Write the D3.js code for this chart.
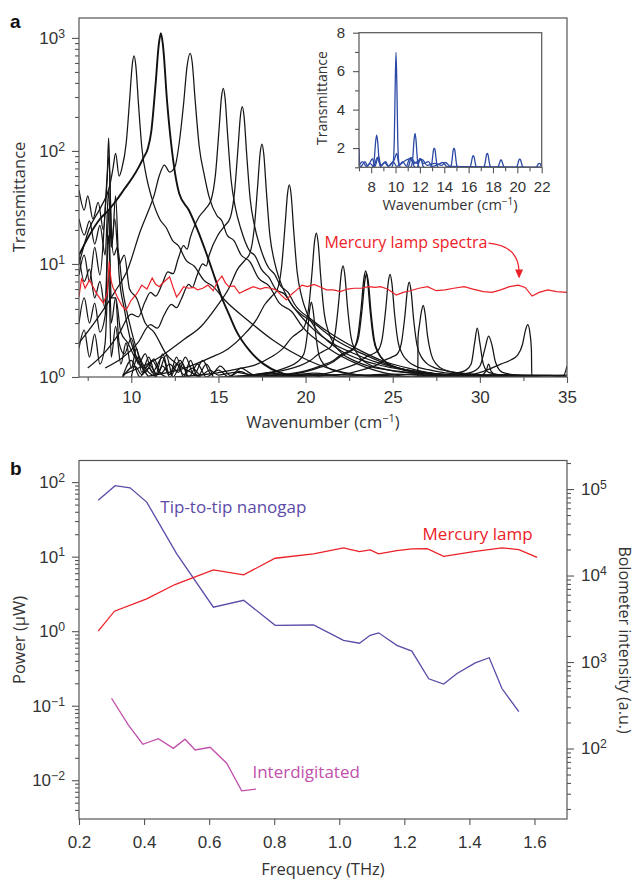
<!DOCTYPE html>
<html><head><meta charset="utf-8">
<script src="https://cdn.jsdelivr.net/npm/d3@7"></script>
<style>
body{margin:0;background:#fff;}
svg{font-family:"Open Sans","Noto Sans",sans-serif;}
</style></head><body><svg id="c" width="638" height="882"></svg>
<script>
// ---------- Panel a : transmittance spectra (wavenumber cm^-1, transmittance) ----------
const specA=[[7.0,10],[7.56,20],[8.26,32],[8.76,49],[8.95,70],[9.1,95],[9.3,60],[9.46,70],[9.71,118],[9.91,291],[10.06,588],[10.16,692],[10.26,568],[10.41,264],[10.61,105],[10.86,60],[11.16,39],[11.66,24.5],[12.0,21],[12.36,16.2],[12.7,14.5],[13.16,10.7],[13.6,9.6],[14.16,7.2],[14.7,6.3],[15.36,4.8],[16.66,3.2],[18.16,2.1],[20.16,1.4],[22.16,1.1],[24,1.0]];
const specB=[[7.0,12],[7.6,18],[8.2,25],[8.7,30],[9.17,37],[9.6,46],[10.1,59],[10.45,73],[10.7,87],[10.95,105],[11.15,150],[11.4,400],[11.58,880],[11.7,1100],[11.82,850],[12.06,266],[12.35,96],[12.75,42],[13.3,30],[13.8,20],[14.3,12.5],[14.8,7.5],[15.2,5],[15.6,3.6],[16,2.6],[16.8,1.7],[17.6,1.3],[18.5,1.1],[20,1.0]];
const specC=[[7.0,2.0],[8.0,3.2],[9.0,5.5],[9.8,9],[10.54,20],[11.0,30],[11.3,40],[11.6,60],[11.9,75],[12.2,65],[12.5,72],[12.75,118],[13.0,260],[13.2,560],[13.38,730],[13.5,600],[13.65,300],[13.9,109],[14.2,60],[14.47,39],[14.9,27],[15.2,24],[15.5,18],[15.9,16],[16.3,12],[16.8,10.5],[17.3,7.5],[17.9,6.4],[18.5,4.5],[19.2,3.8],[19.8,2.8],[21.3,1.8],[23,1.3],[25,1.05],[26,1.0]];
const specD=[[7.5,1.2],[8.4,1.6],[9.28,2.4],[10.0,3.6],[10.4,3.4],[10.78,4.6],[11.1,5.6],[11.4,5.2],[11.78,6.7],[12.1,8.5],[12.4,8.2],[12.68,11],[13.0,14.5],[13.2,13.5],[13.38,17],[13.88,26],[14.28,31],[14.58,37],[14.83,62],[15.03,151],[15.18,304],[15.28,358],[15.38,294],[15.53,137],[15.73,55],[15.98,31],[16.28,20.6],[16.78,13.1],[17.1,11.8],[17.48,8.9],[17.9,7.6],[18.28,6],[18.8,5.4],[19.28,4.2],[20.48,3],[21.78,2.1],[23.28,1.6],[25.28,1.2],[27.28,1.0]];
const specE=[[8.5,1.2],[10.37,2.0],[11.1,2.9],[11.5,2.7],[11.87,3.5],[12.3,4.4],[12.6,4.1],[12.87,4.9],[13.3,6.6],[13.5,6.2],[13.77,7.9],[14.1,10],[14.3,9.6],[14.47,12],[14.97,18],[15.37,21.8],[15.67,25.5],[15.92,42.6],[16.12,104],[16.27,209],[16.37,246],[16.47,202],[16.62,94],[16.82,37.8],[17.07,21.8],[17.37,14.5],[17.87,9.3],[18.2,8.2],[18.57,6.4],[19.0,5.6],[19.37,4.4],[20.37,3.2],[21.57,2.35],[22.87,1.8],[24.37,1.4],[26.37,1.15],[28.37,1.0]];
const specF=[[9.5,1.05],[11.5,1.46],[13.0,2.14],[14.0,2.8],[14.9,4.2],[15.6,6.1],[16.1,9.0],[16.5,10.7],[16.8,12.4],[17.05,20.4],[17.25,48.9],[17.4,97.9],[17.5,115],[17.6,94.5],[17.75,44.3],[17.95,18.1],[18.2,10.7],[18.5,7.3],[19.0,4.9],[19.7,3.5],[20.5,2.6],[21.5,2.0],[22.7,1.63],[24.0,1.36],[25.5,1.18],[27.5,1.07],[29.5,1.0]];
const specG=[[11,1.02],[13.07,1.2],[14.57,1.49],[15.57,1.78],[16.47,2.37],[17.17,3.2],[17.67,4.4],[18.07,5.2],[18.37,5.9],[18.62,9.3],[18.82,21.6],[18.97,42.6],[19.07,50],[19.17,41.2],[19.32,19.6],[19.52,8.4],[19.77,5.2],[20.07,3.7],[20.57,2.7],[21.27,2.08],[22.07,1.69],[23.07,1.44],[24.27,1.27],[25.57,1.16],[27.07,1.08],[29.07,1.03],[31,1.0]];
const specH=[[12.5,1.0],[14.62,1.07],[16.12,1.18],[17.12,1.28],[18.02,1.5],[18.72,1.8],[19.22,2.24],[19.62,2.5],[19.92,2.77],[20.17,4.0],[20.37,8.4],[20.52,16.0],[20.62,18.7],[20.72,15.5],[20.87,7.7],[21.07,3.66],[21.32,2.5],[21.62,1.97],[22.12,1.6],[22.82,1.39],[23.62,1.25],[24.62,1.16],[25.82,1.1],[27.12,1.06],[28.62,1.03],[31,1.0]];
const specI=[[16,1.0],[17.3,1.05],[18.8,1.2],[19.5,1.35],[19.9,1.6],[20.1,2.4],[20.23,3.9],[20.33,4.6],[20.43,3.9],[20.58,2.4],[20.8,1.5],[21.3,1.2],[22.3,1.08],[24,1.02],[26,1.0]];
const specJ=[[15,1.0],[18.15,1.1],[19.55,1.24],[20.25,1.39],[20.75,1.6],[21.15,1.73],[21.45,1.86],[21.7,2.46],[21.9,4.6],[22.05,8.3],[22.15,9.6],[22.25,8.05],[22.4,4.27],[22.6,2.29],[22.85,1.73],[23.15,1.47],[23.65,1.29],[24.35,1.19],[25.15,1.12],[26.15,1.08],[28.15,1.03],[30,1.0]];
const specK1=[[16,1.0],[19.45,1.07],[20.85,1.22],[21.55,1.35],[22.05,1.54],[22.45,1.65],[22.75,1.77],[23.0,2.31],[23.2,4.23],[23.35,7.5],[23.45,8.7],[23.55,7.3],[23.7,3.93],[23.9,2.16],[24.15,1.65],[24.45,1.42],[24.95,1.26],[25.65,1.17],[26.45,1.11],[27.45,1.07],[29.45,1.02],[31,1.0]];
const specK2=[[16.5,1.0],[19.5,1.09],[20.9,1.26],[21.6,1.4],[22.1,1.6],[22.5,1.7],[22.8,1.82],[23.05,2.3],[23.25,4.1],[23.4,7.1],[23.5,8.2],[23.6,6.9],[23.75,3.8],[23.95,2.1],[24.2,1.62],[24.5,1.4],[25.0,1.25],[25.7,1.16],[26.5,1.1],[27.5,1.06],[29.5,1.02],[31,1.0]];
const specL=[[17,1.0],[20.85,1.06],[22.25,1.2],[22.95,1.32],[23.45,1.5],[23.85,1.6],[24.15,1.71],[24.4,2.2],[24.6,4.0],[24.75,7.0],[24.85,8.1],[24.95,6.8],[25.1,3.7],[25.3,2.07],[25.55,1.6],[25.85,1.39],[26.35,1.24],[27.05,1.16],[27.85,1.1],[28.85,1.06],[30.85,1.02],[32,1.0]];
const specM=[[18,1.0],[21.95,1.05],[23.35,1.17],[24.05,1.27],[24.55,1.41],[24.95,1.5],[25.25,1.59],[25.5,2.0],[25.7,3.48],[25.85,6.0],[25.95,6.9],[26.05,5.8],[26.2,3.24],[26.4,1.89],[26.65,1.5],[26.95,1.32],[27.45,1.2],[28.15,1.13],[28.95,1.08],[29.95,1.05],[31.95,1.02],[33,1.0]];
const specN=[[26.3,1.0],[26.44,1.0],[26.45,2.2],[26.55,3.0],[26.65,3.8],[26.75,4.3],[26.85,3.7],[27.0,2.3],[27.2,1.6],[27.5,1.3],[28,1.15],[29,1.07],[30,1.03],[31,1.0]];
const specO=[[26,1.0],[27,1.02],[28.5,1.07],[29.2,1.15],[29.5,1.3],[29.7,2.0],[29.85,2.7],[30.0,2.0],[30.2,1.3],[30.5,1.1],[31.5,1.03],[32.5,1.0]];
const specP=[[27,1.0],[28,1.02],[29.5,1.1],[30.0,1.25],[30.3,1.8],[30.5,2.3],[30.7,1.9],[30.9,1.35],[31.3,1.1],[32.5,1.02],[33.5,1.0]];
const specQ=[[29.5,1.0],[30.0,1.02],[30.35,1.12],[30.5,1.3],[30.65,1.12],[31.0,1.02],[31.5,1.0]];
const specR=[[27.5,1.0],[29.5,1.05],[30.4,1.15],[31.2,1.3],[31.8,1.42],[32.15,1.55],[32.45,1.95],[32.62,2.6],[32.75,2.9],[32.88,2.4],[32.96,1.7],[32.98,1.0],[35,1.0]];
const specS=[[34.2,1.0],[34.8,1.03],[35,1.25]];
const specL1=[[7.0,8],[7.3,12],[7.6,7],[7.9,14],[8.2,8],[8.5,30],[8.62,60],[8.7,130],[8.78,50],[8.9,15],[9.1,40],[9.3,8],[9.6,4],[10,2],[10.5,1.3],[11,1.0]];
const specL2=[[7.0,45],[7.3,30],[7.5,40],[7.8,25],[8.1,35],[8.4,20],[8.6,55],[8.72,90],[8.85,20],[9.0,12],[9.2,14],[9.5,6],[9.9,3],[10.4,1.6],[11,1.1],[11.5,1.0]];
const specL3=[[7.0,12],[7.3,7],[7.6,9],[7.9,5],[8.2,7],[8.5,4],[8.7,30],[8.85,5],[9.1,5],[9.4,2.5],[9.8,2],[10.2,1.5],[10.8,1.2],[11.2,1.4],[11.6,1.1],[12,1.0]];
const specL4=[[7.0,3],[7.3,5],[7.6,3],[7.9,4.5],[8.2,2.5],[8.5,3.5],[8.7,18],[8.85,3],[9.1,5],[9.3,2],[9.6,1.6],[10.0,2.2],[10.4,1.3],[10.8,1.6],[11.2,1.1],[11.8,1.5],[12.2,1.0],[12.8,1.4],[13.2,1.0]];
const specL5=[[7.0,1.8],[7.3,2.6],[7.6,1.5],[7.9,2.4],[8.2,1.3],[8.5,2],[8.7,8],[8.85,1.5],[9.1,2.8],[9.4,1.3],[9.7,2.0],[10.0,1.2],[10.3,1.8],[10.6,1.1],[11.0,1.5],[11.4,1.05],[11.8,1.6],[12.2,1.05],[12.6,1.5],[13.0,1.0],[13.4,1.4],[13.8,1.0],[14.3,1.3],[14.7,1.0]];
const specL6=[[7.0,25],[7.3,18],[7.6,24],[7.9,15],[8.2,22],[8.5,12],[8.7,45],[8.85,14],[9.05,25],[9.3,10],[9.6,12],[9.9,6],[10.3,5],[10.8,3],[11.3,2.5],[12,1.6],[13,1.2],[14,1.0]];
const specL7=[[9.5,1.0],[10,1.4],[10.5,1.0],[11,1.3],[11.5,1.05],[12,1.55],[12.4,1.0],[12.9,1.35],[13.3,1.0],[13.8,1.3],[14.3,1.0],[15,1.15],[15.6,1.0],[16.2,1.12],[17,1.02],[18,1.08],[19,1.02],[20,1.06],[21,1.0],[35,1.0]];
const specBase1=[[9.5,1.0],[10.2,1.25],[10.6,1.05],[11.0,1.2],[11.4,1.03],[11.8,1.25],[12.2,1.05],[12.6,1.3],[13.0,1.05],[13.5,1.2],[14,1.04],[14.5,1.15],[15,1.04],[16,1.1],[17,1.04],[18,1.06],[20,1.04],[22,1.05],[24,1.03],[26,1.05],[28,1.03],[30,1.04],[32,1.03],[35,1.04]];
const specBase2=[[10,1.0],[10.4,1.5],[10.8,1.1],[11.3,1.45],[11.7,1.08],[12.2,1.3],[12.7,1.1],[13.1,1.5],[13.6,1.05],[14.1,1.4],[14.6,1.05],[15.1,1.25],[15.7,1.03],[16.3,1.2],[17,1.05],[18,1.1],[19,1.03],[20.5,1.08],[22,1.02],[25,1.06],[28,1.02],[31,1.05],[35,1.02]];
const spectraThin=[specA,specC,specD,specE,specF,specG,specH,specI,specJ,specL,specM,specN,specO,specP,specQ,specR,specS,specL1,specL2,specL3,specL4,specL5,specL6,specL7,specBase1,specBase2];
const spectraMid=[specK1,specK2];
const spectraThick=[specB];
const mercuryA=[[7.0,5.1],[7.15,7.5],[7.35,6.1],[7.6,7.2],[8.0,5.5],[8.4,4.5],[8.62,5.5],[8.73,10.5],[8.85,7],[8.95,6.2],[9.2,5.1],[9.45,4.3],[9.7,3.9],[10.0,4.8],[10.3,5.4],[10.6,6.5],[10.9,6.0],[11.2,7.5],[11.4,6.6],[11.6,6.3],[11.9,7.0],[12.2,7.7],[12.4,6.2],[12.6,5.1],[12.8,5.6],[13.0,6.3],[13.3,6.1],[13.6,6.2],[13.8,5.9],[14.1,6.1],[14.4,6.5],[14.7,5.8],[14.95,7.0],[15.2,7.8],[15.4,6.8],[15.6,6.3],[15.9,6.4],[16.2,5.5],[16.6,5.9],[17.0,6.3],[17.4,6.0],[17.7,6.2],[18.0,6.1],[18.3,5.9],[18.6,5.3],[18.9,4.8],[19.2,5.4],[19.5,5.9],[19.8,6.5],[20.1,6.3],[20.5,6.6],[20.9,6.2],[21.2,5.9],[21.6,5.9],[22.0,5.7],[22.4,6.0],[22.8,6.1],[23.2,6.1],[23.6,6.3],[24.0,6.2],[24.3,6.3],[24.7,6.0],[25.0,5.6],[25.2,5.3],[25.6,5.6],[26.0,5.8],[26.5,6.1],[27.0,6.3],[27.5,5.8],[28.0,5.9],[28.5,6.1],[29.1,6.3],[29.6,6.0],[30.2,5.7],[30.7,5.6],[31.2,5.9],[31.7,6.3],[32.2,6.5],[32.6,6.2],[33.0,5.2],[33.4,5.6],[33.9,5.9],[34.4,5.7],[35,5.6]];
const aXMajor=[10,15,20,25,30,35], aXMinor=[7.5,12.5,17.5,22.5,27.5,32.5], aYMajor=[1,10,100,1000];

// ---------- Inset (linear transmittance) ----------
const ins1=[[8.1,1.0],[8.2,1.15],[8.28,1.6],[8.36,2.3],[8.45,2.67],[8.54,2.3],[8.62,1.6],[8.7,1.15],[8.8,1.0]];
const ins2=[[9.7,1.0],[9.82,1.3],[9.9,2.5],[9.97,5.2],[10.04,6.98],[10.11,5.2],[10.18,2.5],[10.26,1.3],[10.38,1.0]];
const ins3=[[11.25,1.0],[11.35,1.15],[11.43,1.6],[11.51,2.35],[11.6,2.76],[11.69,2.35],[11.77,1.6],[11.85,1.15],[11.95,1.0]];
const ins4=[[12.86,1],[12.96,1.12],[13.04,1.5],[13.11,1.88],[13.18,2.0],[13.25,1.88],[13.32,1.5],[13.4,1.12],[13.5,1]];
const ins5=[[14.48,1],[14.58,1.12],[14.66,1.5],[14.73,1.88],[14.8,2.0],[14.87,1.88],[14.94,1.5],[15.02,1.12],[15.12,1]];
const ins6=[[16.06,1],[16.16,1.07],[16.24,1.3],[16.31,1.53],[16.38,1.6],[16.45,1.53],[16.52,1.3],[16.6,1.07],[16.7,1]];
const ins7=[[17.21,1],[17.31,1.09],[17.39,1.36],[17.46,1.63],[17.53,1.72],[17.6,1.63],[17.67,1.36],[17.75,1.09],[17.85,1]];
const ins8=[[18.34,1],[18.44,1.05],[18.52,1.19],[18.59,1.33],[18.66,1.38],[18.73,1.33],[18.8,1.19],[18.88,1.05],[18.98,1]];
const ins9=[[19.88,1],[19.98,1.05],[20.06,1.22],[20.13,1.38],[20.2,1.43],[20.27,1.38],[20.34,1.22],[20.42,1.05],[20.52,1]];
const ins10=[[21.48,1],[21.58,1.02],[21.66,1.1],[21.73,1.18],[21.8,1.2],[21.87,1.18],[21.94,1.1],[22.02,1.02],[22.12,1]];
const ins11=[[10.98,1],[11.08,1.06],[11.16,1.25],[11.23,1.44],[11.3,1.5],[11.37,1.44],[11.44,1.25],[11.52,1.06],[11.62,1]];
const ins12=[[11.73,1],[11.83,1.05],[11.91,1.22],[11.98,1.4],[12.05,1.45],[12.12,1.4],[12.19,1.22],[12.27,1.05],[12.37,1]];
const insN1=[[7.0,2.0],[7.08,1.0],[7.3,1.15],[7.5,1.3],[7.7,1.05],[7.9,1.25],[8.1,1.45],[8.3,1.05],[8.6,1.55],[8.8,1.1],[9.0,1.2],[9.2,1.3],[9.4,1.05],[9.7,1.2],[9.9,1.4],[10.1,1.72],[10.3,1.1],[10.6,1.3],[10.9,1.05],[11.1,1.4],[11.3,1.5],[11.5,1.3],[11.8,1.2],[12.0,1.45],[12.3,1.2],[12.7,1.3],[13.0,1.05],[13.5,1.15],[13.9,1.25],[14.2,1.05],[15,1.03],[22,1.0]];
const insN2=[[7.0,1.1],[7.3,1.3],[7.6,1.05],[7.9,1.2],[8.2,1.05],[8.5,1.5],[8.8,1.05],[9.1,1.25],[9.4,1.05],[9.8,1.3],[10.1,1.05],[10.5,1.2],[10.8,1.35],[11.2,1.45],[11.5,1.2],[11.9,1.35],[12.2,1.4],[12.6,1.1],[13.2,1.2],[13.8,1.1],[14.1,1.25],[14.5,1.05],[22,1.0]];
const insetCurves=[ins1,ins2,ins3,ins4,ins5,ins6,ins7,ins8,ins9,ins10,ins11,ins12,insN1,insN2];
const insXMajor=[8,10,12,14,16,18,20,22], insXMinor=[7,9,11,13,15,17,19,21], insYMajor=[2,4,6,8], insYMinor=[1,3,5,7];

// ---------- Panel b ----------
const freqTip=[0.259,0.311,0.357,0.408,0.5,0.613,0.706,0.803,0.921,1.013,1.062,1.095,1.121,1.177,1.223,1.275,1.321,1.362,1.418,1.461,1.5,1.552];
const powerTip=[57,89.5,84,54,11,2.1,2.6,1.2,1.21,0.755,0.69,0.88,0.95,0.645,0.54,0.23,0.195,0.27,0.375,0.44,0.17,0.083];
const freqHg=[0.259,0.309,0.408,0.495,0.613,0.706,0.803,0.921,1.013,1.062,1.095,1.121,1.177,1.223,1.27,1.321,1.418,1.5,1.552,1.608];
const bolHg=[2280,3870,5380,7870,11640,10190,15850,17800,20900,18900,19800,17800,19400,20300,20500,16700,19050,20900,19950,16250];
const freqInter=[0.3,0.352,0.396,0.444,0.49,0.526,0.557,0.603,0.654,0.7,0.744];
const powerInter=[0.126,0.055,0.0304,0.0361,0.0268,0.0355,0.0255,0.0277,0.0169,0.0072,0.0076];
const bXMajor=[0.2,0.4,0.6,0.8,1.0,1.2,1.4,1.6], bYLeftMajor=[0.01,0.1,1,10,100], bYRightMajor=[100,1000,10000,100000];

// ================= drawing =================
const svg=d3.select("#c");
const AX="#555", TXT="#333";
const RED="#ec2128", BLUE="#2c4aa5", PURPLE="#5b4aa8", PINK="#c24fab";
const FW=400;

function styleAxis(g){g.select(".domain").remove();g.selectAll("line").attr("stroke",AX).attr("stroke-width",1.1);
  g.selectAll("text").attr("fill",TXT).style("font-weight",FW);}
function supLabels(g,size){g.selectAll(".tick text").each(function(d){const e=Math.round(Math.log10(d));const t=d3.select(this);t.text(null);
  t.append("tspan").text("10");t.append("tspan").attr("dy","-0.5em").style("font-size",(size*0.72)+"px").text(e<0?"\u2212"+(-e):String(e));});}
function minorLog(scale){return scale.ticks().filter(v=>{const l=Math.log10(v);return Math.abs(l-Math.round(l))>1e-6;});}
function box(x0,y0,x1,y1,fill){svg.append("rect").attr("x",x0).attr("y",y0).attr("width",x1-x0).attr("height",y1-y0).attr("fill",fill||"none").attr("stroke",AX).attr("stroke-width",1.2);}
function label(x,y,txt,size,color,rot){const t=svg.append("text").attr("transform",`translate(${x},${y})`+(rot?` rotate(${rot})`:"")).style("font-size",size+"px").style("font-weight",FW).attr("fill",color);return t.text(txt);}

// ---- Panel a ----
const xA=d3.scaleLinear().domain([7,35]).range([79,567]);
const yA=d3.scaleLog().domain([1,1500]).range([377,18]);
svg.append("defs").html('<clipPath id="clipA"><rect x="79" y="18" width="488" height="359"/></clipPath><clipPath id="clipI"><rect x="359" y="32.7" width="182.7" height="134.6"/></clipPath><clipPath id="clipB"><rect x="79" y="460.5" width="488" height="358.5"/></clipPath>');
const lineA=d3.line().x(d=>xA(d[0])).y(d=>yA(Math.max(d[1],0.95))).curve(d3.curveMonotoneX);
const gA=svg.append("g").attr("clip-path","url(#clipA)");
gA.selectAll("path.thin").data(spectraThin).join("path").attr("class","thin").attr("d",lineA).attr("fill","none").attr("stroke","#151515").attr("stroke-width",1.25);
gA.selectAll("path.mid").data(spectraMid).join("path").attr("class","mid").attr("d",lineA).attr("fill","none").attr("stroke","#151515").attr("stroke-width",1.35);
gA.selectAll("path.thick").data(spectraThick).join("path").attr("class","thick").attr("d",lineA).attr("fill","none").attr("stroke","#111").attr("stroke-width",1.9);
gA.append("path").datum(mercuryA).attr("d",d3.line().x(d=>xA(d[0])).y(d=>yA(d[1]))).attr("fill","none").attr("stroke",RED).attr("stroke-width",1.2);
box(79,18,567,377);
let g=svg.append("g").attr("transform","translate(0,377)").call(d3.axisBottom(xA).tickValues(aXMajor).tickSize(6).tickPadding(8).tickFormat(d3.format("d")));
g.selectAll("text").style("font-size","17px");styleAxis(g);
g=svg.append("g").attr("transform","translate(0,377)").call(d3.axisBottom(xA).tickValues(aXMinor).tickSize(4).tickFormat(""));styleAxis(g);
g=svg.append("g").attr("transform","translate(79,0)").call(d3.axisLeft(yA).tickValues(aYMajor).tickSize(7).tickPadding(7));
g.selectAll("text").style("font-size","17px");supLabels(g,17);styleAxis(g);
g=svg.append("g").attr("transform","translate(79,0)").call(d3.axisLeft(yA).tickValues(minorLog(yA)).tickSize(4).tickFormat(""));styleAxis(g);
label(25,197,"Transmittance",16.5,TXT,-90).attr("text-anchor","middle");
label(323,428,"",16.5,TXT).attr("text-anchor","middle").html('Wavenumber (cm<tspan dy="-6" style="font-size:11px">\u22121</tspan><tspan dy="6">)</tspan>');
svg.append("text").attr("x",10).attr("y",28).style("font-family","'Liberation Sans',Arial,sans-serif").style("font-weight","bold").style("font-size","19px").attr("fill","#111").text("a");
// annotation
label(xA(21.08),yA(13.9),"Mercury lamp spectra",16,RED);
const p0=[xA(30.5),yA(15.3)], p1=[xA(32.2),yA(14.5)], p2=[xA(32.25),yA(7.6)];
svg.append("path").attr("d",`M${p0[0]},${p0[1]} Q${p1[0]},${p1[1]} ${p2[0]},${p2[1]-6}`).attr("fill","none").attr("stroke",RED).attr("stroke-width",1.2);
svg.append("path").attr("d",`M${p2[0]-4},${p2[1]-8} L${p2[0]+4},${p2[1]-8} L${p2[0]},${p2[1]+1} Z`).attr("fill",RED);

// ---- Inset ----
const xI=d3.scaleLinear().domain([7,22]).range([359,541.7]);
const yI=d3.scaleLinear().domain([1,8]).range([167.3,32.7]);
svg.append("rect").attr("x",359).attr("y",32.7).attr("width",182.7).attr("height",134.6).attr("fill","#fff");
const lineI=d3.line().x(d=>xI(d[0])).y(d=>yI(Math.max(d[1],0.98))).curve(d3.curveMonotoneX);
svg.append("g").attr("clip-path","url(#clipI)").selectAll("path").data(insetCurves).join("path").attr("d",lineI).attr("fill","none").attr("stroke",BLUE).attr("stroke-width",1.3);
box(359,32.7,541.7,167.3);
g=svg.append("g").attr("transform","translate(0,167.3)").call(d3.axisBottom(xI).tickValues(insXMajor).tickSize(6).tickPadding(8).tickFormat(d3.format("d")));
g.selectAll("text").style("font-size","15px");styleAxis(g);
g=svg.append("g").attr("transform","translate(0,167.3)").call(d3.axisBottom(xI).tickValues(insXMinor).tickSize(4).tickFormat(""));styleAxis(g);
g=svg.append("g").attr("transform","translate(359,0)").call(d3.axisLeft(yI).tickValues(insYMajor).tickSize(6).tickPadding(8).tickFormat(d3.format("d")));
g.selectAll("text").style("font-size","15px");styleAxis(g);
g=svg.append("g").attr("transform","translate(359,0)").call(d3.axisLeft(yI).tickValues(insYMinor).tickSize(4).tickFormat(""));styleAxis(g);
label(327,98,"Transmittance",14,TXT,-90).attr("text-anchor","middle");
label(450,210,"",14.5,TXT).attr("text-anchor","middle").html('Wavenumber (cm<tspan dy="-5" style="font-size:10px">\u22121</tspan><tspan dy="5">)</tspan>');

// ---- Panel b ----
const xB=d3.scaleLinear().domain([0.2,1.7]).range([79,567]);
const yBL=d3.scaleLog().domain([Math.pow(10,-2.52),Math.pow(10,2.29)]).range([819,460.5]);
const yBR=d3.scaleLog().domain([Math.pow(10,1.185),Math.pow(10,5.33)]).range([819,460.5]);
const gB=svg.append("g").attr("clip-path","url(#clipB)");
gB.append("path").datum(d3.zip(freqTip,powerTip)).attr("d",d3.line().x(d=>xB(d[0])).y(d=>yBL(d[1]))).attr("fill","none").attr("stroke",PURPLE).attr("stroke-width",1.3);
gB.append("path").datum(d3.zip(freqHg,bolHg)).attr("d",d3.line().x(d=>xB(d[0])).y(d=>yBR(d[1]))).attr("fill","none").attr("stroke",RED).attr("stroke-width",1.3);
gB.append("path").datum(d3.zip(freqInter,powerInter)).attr("d",d3.line().x(d=>xB(d[0])).y(d=>yBL(d[1]))).attr("fill","none").attr("stroke",PINK).attr("stroke-width",1.3);
box(79,460.5,567,819);
g=svg.append("g").attr("transform","translate(0,819)").call(d3.axisBottom(xB).tickValues(bXMajor).tickSize(6).tickPadding(11).tickFormat(d3.format(".1f")));
g.selectAll("text").style("font-size","17px");styleAxis(g);
g=svg.append("g").attr("transform","translate(79,0)").call(d3.axisLeft(yBL).tickValues(bYLeftMajor).tickSize(7).tickPadding(7));
g.selectAll("text").style("font-size","17px");supLabels(g,17);styleAxis(g);
g=svg.append("g").attr("transform","translate(79,0)").call(d3.axisLeft(yBL).tickValues(minorLog(yBL)).tickSize(4).tickFormat(""));styleAxis(g);
g=svg.append("g").attr("transform","translate(567,0)").call(d3.axisRight(yBR).tickValues(bYRightMajor).tickSize(7).tickPadding(7));
g.selectAll("text").style("font-size","17px");supLabels(g,17);styleAxis(g);
g=svg.append("g").attr("transform","translate(567,0)").call(d3.axisRight(yBR).tickValues(minorLog(yBR)).tickSize(4).tickFormat(""));styleAxis(g);
label(25,640,"Power (\u03bcW)",16.5,TXT,-90).attr("text-anchor","middle");
label(619,640,"Bolometer intensity (a.u.)",16,TXT,90).attr("text-anchor","middle");
label(323,875,"Frequency (THz)",16.5,TXT).attr("text-anchor","middle");
svg.append("text").attr("x",10).attr("y",475).style("font-family","'Liberation Sans',Arial,sans-serif").style("font-weight","bold").style("font-size","19px").attr("fill","#111").text("b");
label(xB(0.45),yBL(39),"Tip-to-tip nanogap",17,PURPLE);
label(xB(1.256),yBR(25800),"Mercury lamp",17,RED);
label(xB(0.733),yBL(0.0108),"Interdigitated",17,PINK);
</script></body></html>
